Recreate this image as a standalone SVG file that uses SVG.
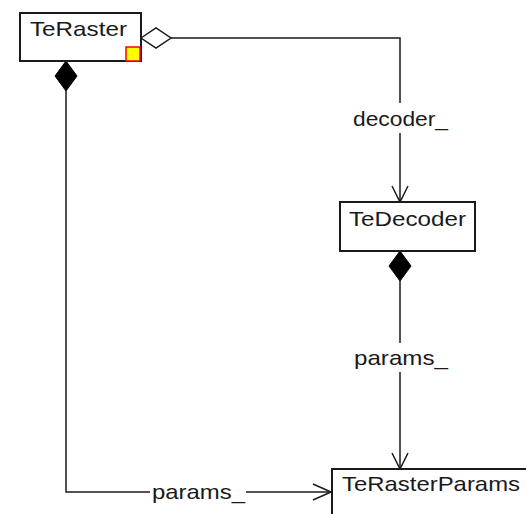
<svg xmlns="http://www.w3.org/2000/svg" width="526" height="514" viewBox="0 0 526 514">
  <style>
    .box { fill: #ffffff; stroke: #1a1a1a; stroke-width: 2; }
    .lbl { font-family: "Liberation Sans", Arial, sans-serif; font-size: 21px; fill: #1a1a1a; }
    .edge { fill: none; stroke: #1a1a1a; stroke-width: 1.5; }
    .open { fill: #ffffff; stroke: #1a1a1a; stroke-width: 1.5; }
    .filled { fill: #000000; stroke: #000000; stroke-width: 1; }
  </style>
  <rect x="0" y="0" width="526" height="514" fill="#ffffff"/>

  <g id="connectors">
    <!-- aggregation: TeRaster to TeDecoder, role decoder_ -->
    <g id="edge-decoder">
      <polyline class="edge" points="171,38 400,38 400,103"/>
      <line class="edge" x1="400" y1="133" x2="400" y2="202"/>
      <polygon class="open" points="141,38 156,28 171,38 156,48"/>
      <polyline class="edge" points="392,186 400,202 408,186"/>
      <text class="lbl" x="353" y="126" textLength="95" lengthAdjust="spacingAndGlyphs">decoder_</text>
    </g>
    <!-- composition: TeDecoder to TeRasterParams, role params_ -->
    <g id="edge-decoder-params">
      <line class="edge" x1="400" y1="281" x2="400" y2="343"/>
      <line class="edge" x1="400" y1="372" x2="400" y2="469"/>
      <polygon class="filled" points="400,251 411,266 400,281 389,266"/>
      <polyline class="edge" points="392,453 400,469 408,453"/>
      <text class="lbl" x="354" y="365" textLength="94" lengthAdjust="spacingAndGlyphs">params_</text>
    </g>
    <!-- composition: TeRaster to TeRasterParams, role params_ -->
    <g id="edge-raster-params">
      <polyline class="edge" points="66,91 66,492 150,492"/>
      <line class="edge" x1="246" y1="492" x2="331" y2="492"/>
      <polygon class="filled" points="66,61 77,76 66,91 55,76"/>
      <polyline class="edge" points="313,484 331,492 313,500"/>
      <text class="lbl" x="152" y="499" textLength="93" lengthAdjust="spacingAndGlyphs">params_</text>
    </g>
  </g>

  <g id="TeRaster">
    <rect class="box" x="20" y="13" width="121" height="48"/>
    <text class="lbl" x="30" y="36" textLength="97" lengthAdjust="spacingAndGlyphs">TeRaster</text>
    <rect x="126" y="47" width="14" height="14" fill="#ffff00" stroke="#ff0000" stroke-width="1.5"/>
  </g>

  <g id="TeDecoder">
    <rect class="box" x="340" y="202" width="135" height="49"/>
    <text class="lbl" x="349" y="226" textLength="117" lengthAdjust="spacingAndGlyphs">TeDecoder</text>
  </g>

  <g id="TeRasterParams">
    <rect class="box" x="332" y="469" width="210" height="60"/>
    <text class="lbl" x="342" y="491" textLength="178" lengthAdjust="spacingAndGlyphs">TeRasterParams</text>
  </g>
</svg>
